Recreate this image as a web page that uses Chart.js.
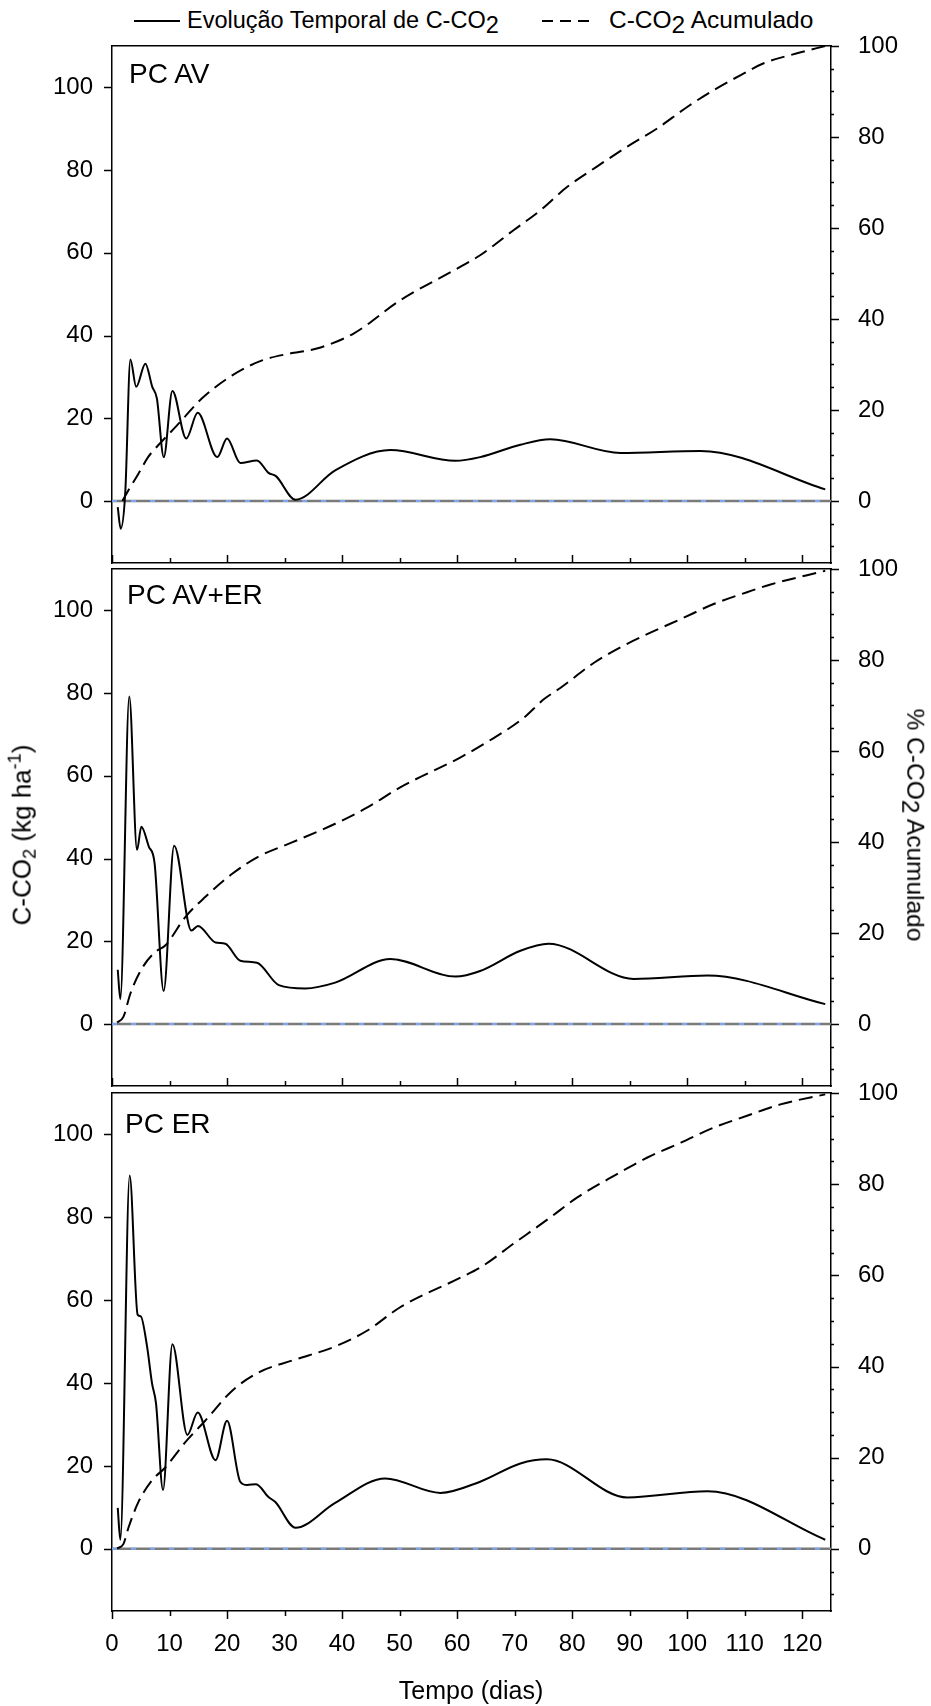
<!DOCTYPE html>
<html>
<head>
<meta charset="utf-8">
<script src="https://cdn.jsdelivr.net/npm/chart.js@4.4.0/dist/chart.umd.min.js"></script>
<style>
  html, body { margin: 0; padding: 0; background: #fff; }
  body { width: 931px; height: 1706px; position: relative; overflow: hidden;
         font-family: "Liberation Sans", Arial, sans-serif; color: #000; }
  .panel { position: absolute; left: 0; width: 931px; }
  .txt { position: absolute; white-space: nowrap; line-height: 1; }
  .rot { transform: translate(-50%, -50%) rotate(-90deg); }
  .rot2 { transform: translate(-50%, -50%) rotate(90deg); }
  .low { position: relative; top: 0.22em; }
  .sub { font-size: 0.7em; vertical-align: -0.25em; }
  .sup { font-size: 0.7em; vertical-align: 0.55em; }
  .sample { position: absolute; height: 2px; }
</style>
</head>
<body>

<!-- legend -->
<div class="sample" style="left:134px; top:20px; width:46px; background:#000;"></div>
<div class="txt" style="left:187px; top:8.5px; font-size:23.5px;">Evolução Temporal de C-CO<span class="low">2</span></div>
<div class="sample" style="left:542px; top:20px; width:51px; background:repeating-linear-gradient(90deg,#000 0 11px,transparent 11px 18px);"></div>
<div class="txt" style="left:609px; top:8px; font-size:24.5px;">C-CO<span class="low">2</span> Acumulado</div>

<div class="panel" style="top:0px; height:580px;"><canvas id="c1"></canvas></div>
<div class="panel" style="top:549px; height:554px;"><canvas id="c2"></canvas></div>
<div class="panel" style="top:1073px; height:633px;"><canvas id="c3"></canvas></div>

<!-- panel labels -->
<div class="txt" style="left:129px; top:59.7px; font-size:28px;">PC AV</div>
<div class="txt" style="left:127px; top:581.3px; font-size:28px;">PC AV+ER</div>
<div class="txt" style="left:125px; top:1110.3px; font-size:28px;">PC ER</div>

<!-- axis titles -->
<div class="txt rot" style="left:22px; top:835px; font-size:26px;">C-CO<span class="sub">2</span> (kg ha<span class="sup">-1</span>)</div>
<div class="txt rot2" style="left:915px; top:825px; font-size:24.5px;">% C-CO<span class="low">2</span> Acumulado</div>
<div class="txt" style="left:471px; top:1690px; font-size:25px; transform:translate(-50%,-50%);">Tempo (dias)</div>

<script>
// day axis
const xMin = 0;
const xMax = 125;
const xTicks = [0, 10, 20, 30, 40, 50, 60, 70, 80, 90, 100, 110, 120];
const leftTicks = [0, 20, 40, 60, 80, 100];
const rightTicks = [0, 20, 40, 60, 80, 100];
const rightMinor = [-10, -5, 5, 10, 15, 25, 30, 35, 45, 50, 55, 65, 70, 75, 85, 90, 95];

// PC AV - C-CO2 flux (kg/ha) and cumulative %
const avDays = [1, 1.5, 2.3, 3.2, 4.2, 5.8, 7.0, 7.8, 9.0, 10.5, 12.9, 14.9, 18.3, 20.0, 22.3, 25.2, 27.2, 28.5, 31.9, 38.8, 48.4, 59.7, 64, 71, 76.2, 88.4, 102.3, 124];
const avFlux = [-1.5, -6.7, 1.9, 34.2, 27.6, 33.2, 27.6, 24.8, 10.6, 26.6, 15.1, 21.3, 10.6, 15.1, 9.2, 9.8, 6.8, 6.0, 0.3, 7.4, 12.3, 9.7, 10.6, 13.6, 14.9, 11.6, 12.1, 2.8];
const avCumDays = [1.8, 3.2, 4.6, 6.3, 7.5, 11.3, 15.6, 20.9, 26.1, 31.3, 35.6, 42, 50.1, 60.6, 64, 69.8, 74.5, 79.1, 84.3, 89.6, 94.8, 100, 104.6, 109.3, 113.3, 119.1, 124];
const avCum = [0, 3.1, 6.0, 9.7, 11.5, 16.6, 22.5, 27.6, 30.9, 32.5, 33.5, 36.8, 44.1, 51.5, 54, 59.5, 63.9, 69, 73.5, 77.9, 81.9, 86.6, 90.3, 93.6, 96.2, 98.4, 100];

// PC AV+ER
const aeDays = [1, 1.45, 3.0, 4.35, 5.1, 6.4, 7.4, 8.98, 10.8, 13.8, 14.95, 18, 19.7, 22.3, 25.2, 29, 33.6, 38.8, 48.4, 59.7, 64, 71, 75.9, 90.7, 103.5, 124];
const aeFlux = [13.1, 6.0, 79.2, 42.1, 47.7, 42.9, 38.9, 8.0, 43.1, 22.6, 23.7, 19.7, 19.4, 15.3, 14.8, 9.4, 8.6, 10.0, 15.7, 11.45, 12.8, 17.7, 19.4, 10.9, 11.7, 4.8];
const aeCumDays = [0.9, 2, 3.2, 5.2, 7.5, 9.3, 12.75, 16.2, 20.9, 25.5, 31.3, 38.8, 44.4, 50.1, 60.6, 65, 71.6, 75, 78, 83.8, 88.4, 93.6, 98.9, 104.6, 110.4, 114.5, 124];
const aeCum = [0.3, 1.6, 6.7, 12.2, 15.8, 17.3, 23.5, 27.9, 33, 36.8, 39.9, 44, 47.6, 52, 58.6, 61.8, 67.3, 71.3, 73.9, 79.4, 82.8, 86.0, 89.0, 92.3, 94.9, 96.6, 99.6];

// PC ER
const erDays = [1, 1.45, 3.07, 4.46, 5.0, 6.1, 6.95, 7.65, 8.87, 10.5, 13.1, 14.9, 18, 20, 22.3, 23.5, 25.05, 27.2, 28.4, 31.9, 38.8, 47.5, 57.1, 64, 71, 75.6, 89.6, 103.5, 124];
const erFlux = [9.9, 2.2, 90.1, 56.5, 56.1, 48.8, 40, 35.1, 14.2, 49.4, 27.5, 32.9, 21.4, 30.9, 16.2, 15.4, 15.6, 12.5, 11.3, 5.1, 11.1, 17.0, 13.5, 16.2, 20.6, 21.6, 12.4, 13.9, 2.2];
const erCumDays = [0.9, 2, 2.9, 4.6, 6.95, 9.3, 12.75, 16.2, 20.9, 25.5, 31.3, 38.8, 44.4, 50.1, 60.6, 64, 70.1, 76.2, 80.9, 87.8, 93, 98.9, 104.6, 110.4, 116.2, 124];
const erCum = [0.1, 1.1, 4.8, 10.3, 15, 17.9, 23.4, 28.1, 34.7, 38.7, 41.3, 44.4, 47.9, 53, 59.5, 61.7, 67.2, 72.7, 77.1, 82.2, 85.8, 89.1, 92.4, 95, 97.5, 99.7];

const FONT = '"Liberation Sans", Arial, sans-serif';

function toPoints(xs, ys) {
  return xs.map((x, i) => ({ x: x, y: ys[i] }));
}

// tick marks drawn with the chart's own scales (inward / outward, minor ticks)
const tickMarks = {
  id: 'tickMarks',
  afterDraw(chart, args, opts) {
    const ctx = chart.ctx;
    const area = chart.chartArea;
    const x = chart.scales.x, y = chart.scales.y, y2 = chart.scales.y2;
    ctx.save();
    ctx.strokeStyle = '#000';
    ctx.lineWidth = 1.5;
    ctx.beginPath();
    leftTicks.forEach(v => {
      const p = Math.round(y.getPixelForValue(v)) + 0.5;
      ctx.moveTo(area.left - 8, p); ctx.lineTo(area.left, p);
    });
    rightTicks.forEach(v => {
      const p = Math.round(y2.getPixelForValue(v)) + 0.5;
      ctx.moveTo(area.right, p); ctx.lineTo(area.right + 8, p);
    });
    rightMinor.forEach(v => {
      const p = Math.round(y2.getPixelForValue(v)) + 0.5;
      ctx.moveTo(area.right, p); ctx.lineTo(area.right + 3, p);
    });
    xTicks.forEach(v => {
      const p = Math.round(x.getPixelForValue(v)) + 0.5;
      const len = v % 20 === 0 ? 8 : 5;
      if (opts.inward) {
        ctx.moveTo(p, area.bottom); ctx.lineTo(p, area.bottom - len);
      } else {
        ctx.moveTo(p, area.bottom); ctx.lineTo(p, area.bottom + len);
      }
    });
    ctx.stroke();
    ctx.restore();
  }
};

function makePanel(id, cfg) {
  const axisBorder = { display: true, color: '#000', width: 1.5 };
  const noGrid = { display: false, drawTicks: false };
  return new Chart(document.getElementById(id), {
    type: 'line',
    data: {
      datasets: [
        {
          data: toPoints(cfg.days, cfg.flux),
          yAxisID: 'y',
          borderColor: '#000',
          borderWidth: 2,
          cubicInterpolationMode: 'monotone',
          pointRadius: 0,
          fill: false
        },
        {
          data: toPoints(cfg.cumDays, cfg.cum),
          yAxisID: 'y2',
          borderColor: '#000',
          borderWidth: 2,
          borderDash: [14, 7],
          cubicInterpolationMode: 'monotone',
          pointRadius: 0,
          fill: false
        },
        {
          data: [{ x: xMin, y: 0 }, { x: xMax, y: 0 }],
          yAxisID: 'y',
          borderColor: '#7fa6f2',
          borderWidth: 2,
          borderDash: [5, 14],
          pointRadius: 0
        },
        {
          data: [{ x: xMin, y: 0 }, { x: xMax, y: 0 }],
          yAxisID: 'y',
          borderColor: '#7a7a7a',
          borderWidth: 2.5,
          pointRadius: 0
        }
      ]
    },
    options: {
      responsive: true,
      maintainAspectRatio: false,
      animation: false,
      events: [],
      layout: { padding: { top: cfg.padTop, left: 0, right: 0, bottom: 0 } },
      plugins: {
        legend: { display: false },
        tooltip: { enabled: false },
        tickMarks: { inward: !cfg.showX }
      },
      scales: {
        x: {
          type: 'linear',
          position: 'bottom',
          min: xMin,
          max: xMax,
          grid: noGrid,
          border: axisBorder,
          afterBuildTicks: s => { s.ticks = xTicks.map(v => ({ value: v })); },
          afterFit: s => { s.height = cfg.xHeight; },
          ticks: {
            display: cfg.showX,
            padding: 19,
            color: '#000',
            maxRotation: 0,
            autoSkip: false,
            font: { family: FONT, size: 24 }
          }
        },
        xTop: {
          type: 'linear',
          position: 'top',
          min: xMin,
          max: xMax,
          grid: noGrid,
          border: axisBorder,
          ticks: { display: false },
          afterFit: s => { s.height = 0; }
        },
        y: {
          type: 'linear',
          position: 'left',
          min: -15,
          max: 110,
          grid: noGrid,
          border: axisBorder,
          afterBuildTicks: s => { s.ticks = leftTicks.map(v => ({ value: v })); },
          afterFit: s => { s.width = 112; s.paddingTop = 0; s.paddingBottom = 0; },
          ticks: { padding: 19, color: '#000', font: { family: FONT, size: 24 } }
        },
        y2: {
          type: 'linear',
          position: 'right',
          min: -15 * 100 / 110,
          max: 100,
          grid: noGrid,
          border: axisBorder,
          afterBuildTicks: s => { s.ticks = rightTicks.map(v => ({ value: v })); },
          afterFit: s => { s.width = 100; s.paddingTop = 0; s.paddingBottom = 0; },
          ticks: { padding: 27, color: '#000', font: { family: FONT, size: 24 } }
        }
      }
    },
    plugins: [tickMarks]
  });
}

makePanel('c1', { days: avDays, flux: avFlux, cumDays: avCumDays, cum: avCum, padTop: 46, xHeight: 17, showX: false });
makePanel('c2', { days: aeDays, flux: aeFlux, cumDays: aeCumDays, cum: aeCum, padTop: 20, xHeight: 17, showX: false });
makePanel('c3', { days: erDays, flux: erFlux, cumDays: erCumDays, cum: erCum, padTop: 20, xHeight: 95, showX: true });
</script>
</body>
</html>
